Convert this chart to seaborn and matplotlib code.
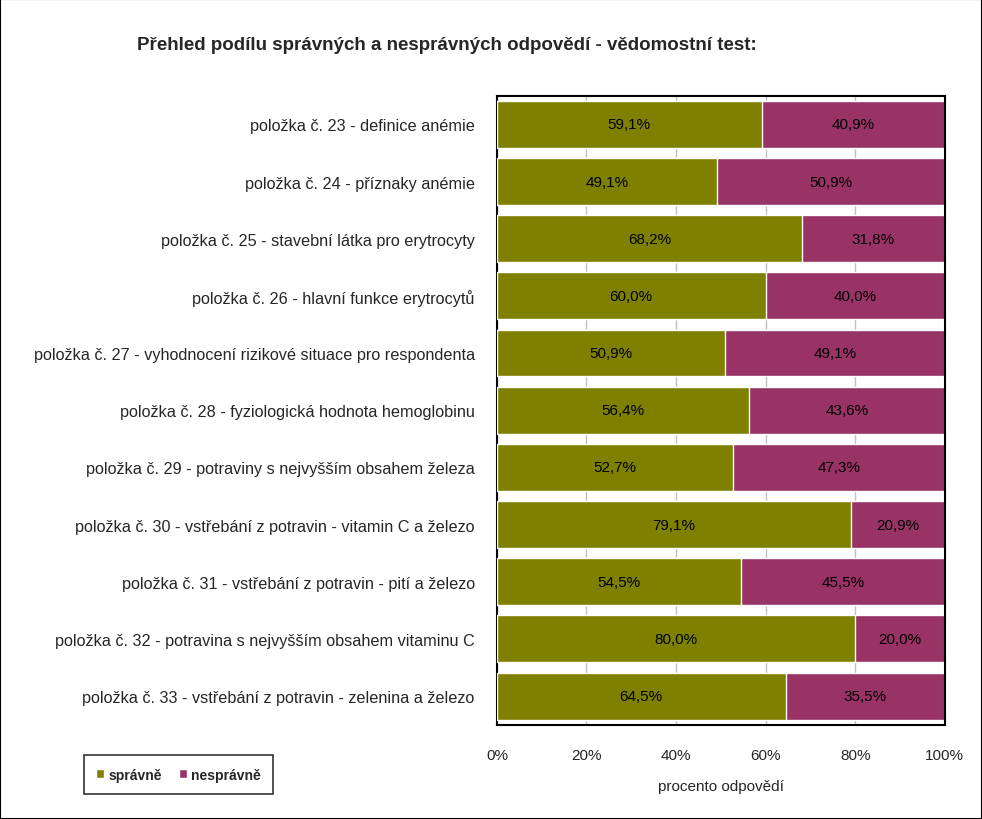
import pandas as pd
import numpy as np
import matplotlib.pyplot as plt
import seaborn as sns
from matplotlib.patches import Patch, Rectangle

items = [
    "položka č. 23 - definice anémie",
    "položka č. 24 - příznaky anémie",
    "položka č. 25 - stavební látka pro erytrocyty",
    "položka č. 26 - hlavní funkce erytrocytů",
    "položka č. 27 - vyhodnocení rizikové situace pro respondenta",
    "položka č. 28 - fyziologická hodnota hemoglobinu",
    "položka č. 29 - potraviny s nejvyšším obsahem železa",
    "položka č. 30 - vstřebání z potravin - vitamin C a železo",
    "položka č. 31 - vstřebání z potravin - pití a železo",
    "položka č. 32 - potravina s nejvyšším obsahem vitaminu C",
    "položka č. 33 - vstřebání z potravin - zelenina a železo",
]
spravne = [59.1, 49.1, 68.2, 60.0, 50.9, 56.4, 52.7, 79.1, 54.5, 80.0, 64.5]
nespravne = [40.9, 50.9, 31.8, 40.0, 49.1, 43.6, 47.3, 20.9, 45.5, 20.0, 35.5]

c_ok = "#808000"
c_bad = "#993366"

df = pd.DataFrame({"item": items, "spravne": spravne, "nespravne": nespravne})
df["total"] = df["spravne"] + df["nespravne"]

sns.set_style("white")
plt.rcParams["font.family"] = ["Liberation Sans", "DejaVu Sans"]

fig = plt.figure(figsize=(9.82, 8.2), dpi=100)
ax = fig.add_axes([0.506, 0.115, 0.456, 0.767])

# maroon = full bar, olive drawn over it -> stacked look
sns.barplot(data=df, y="item", x="total", color=c_bad, orient="h",
            width=0.82, saturation=1, ax=ax, zorder=2)
sns.barplot(data=df, y="item", x="spravne", color=c_ok, orient="h",
            width=0.82, saturation=1, ax=ax, zorder=3)

for i, (s, n) in enumerate(zip(spravne, nespravne)):
    ax.text(s / 2, i, f"{s:.1f}%".replace(".", ","), ha="center", va="center",
            fontsize=11, color="black", zorder=4)
    ax.text(s + n / 2, i, f"{n:.1f}%".replace(".", ","), ha="center", va="center",
            fontsize=11, color="black", zorder=4)

ax.set_xlim(0, 100)
ax.set_ylim(len(items) - 0.5, -0.5)
ax.set_xticks([0, 20, 40, 60, 80, 100])
ax.set_xticklabels(["0%", "20%", "40%", "60%", "80%", "100%"], fontsize=11)
ax.xaxis.grid(True, color="#c0c0c0", linewidth=1, zorder=0)
ax.set_axisbelow(True)
ax.tick_params(axis="x", direction="out", length=5, width=1, color="black", pad=12)
ax.tick_params(axis="y", which="major", length=0, pad=16, labelsize=11.7)
ax.set_yticks(np.arange(-0.5, len(items), 1), minor=True)
ax.tick_params(axis="y", which="minor", direction="out", length=5, width=1, color="black")
ax.set_ylabel("")
ax.set_xlabel("procento odpovědí", fontsize=11, labelpad=12)
for sp in ax.spines.values():
    sp.set_visible(True)
    sp.set_color("black")
    sp.set_linewidth(1.5)

fig.text(0.455, 0.945, "Přehled podílu správných a nesprávných odpovědí - vědomostní test:",
         ha="center", va="center", fontsize=13.5, fontweight="bold")

handles = [Patch(facecolor=c_ok, label="správně"), Patch(facecolor=c_bad, label="nesprávně")]
leg = fig.legend(handles=handles, loc="lower left", bbox_to_anchor=(0.078, 0.022),
                 ncol=2, frameon=True, fancybox=False, edgecolor="black",
                 prop={"weight": "bold", "size": 10}, handlelength=0.6,
                 handleheight=0.6, handletextpad=0.3, columnspacing=1.2,
                 borderpad=0.9)
leg.get_frame().set_linewidth(1.2)

fig.patches.append(Rectangle((0, 0), 1, 1, transform=fig.transFigure, fill=False,
                             edgecolor="black", linewidth=1.5))

fig.savefig("out.png", dpi=100)
